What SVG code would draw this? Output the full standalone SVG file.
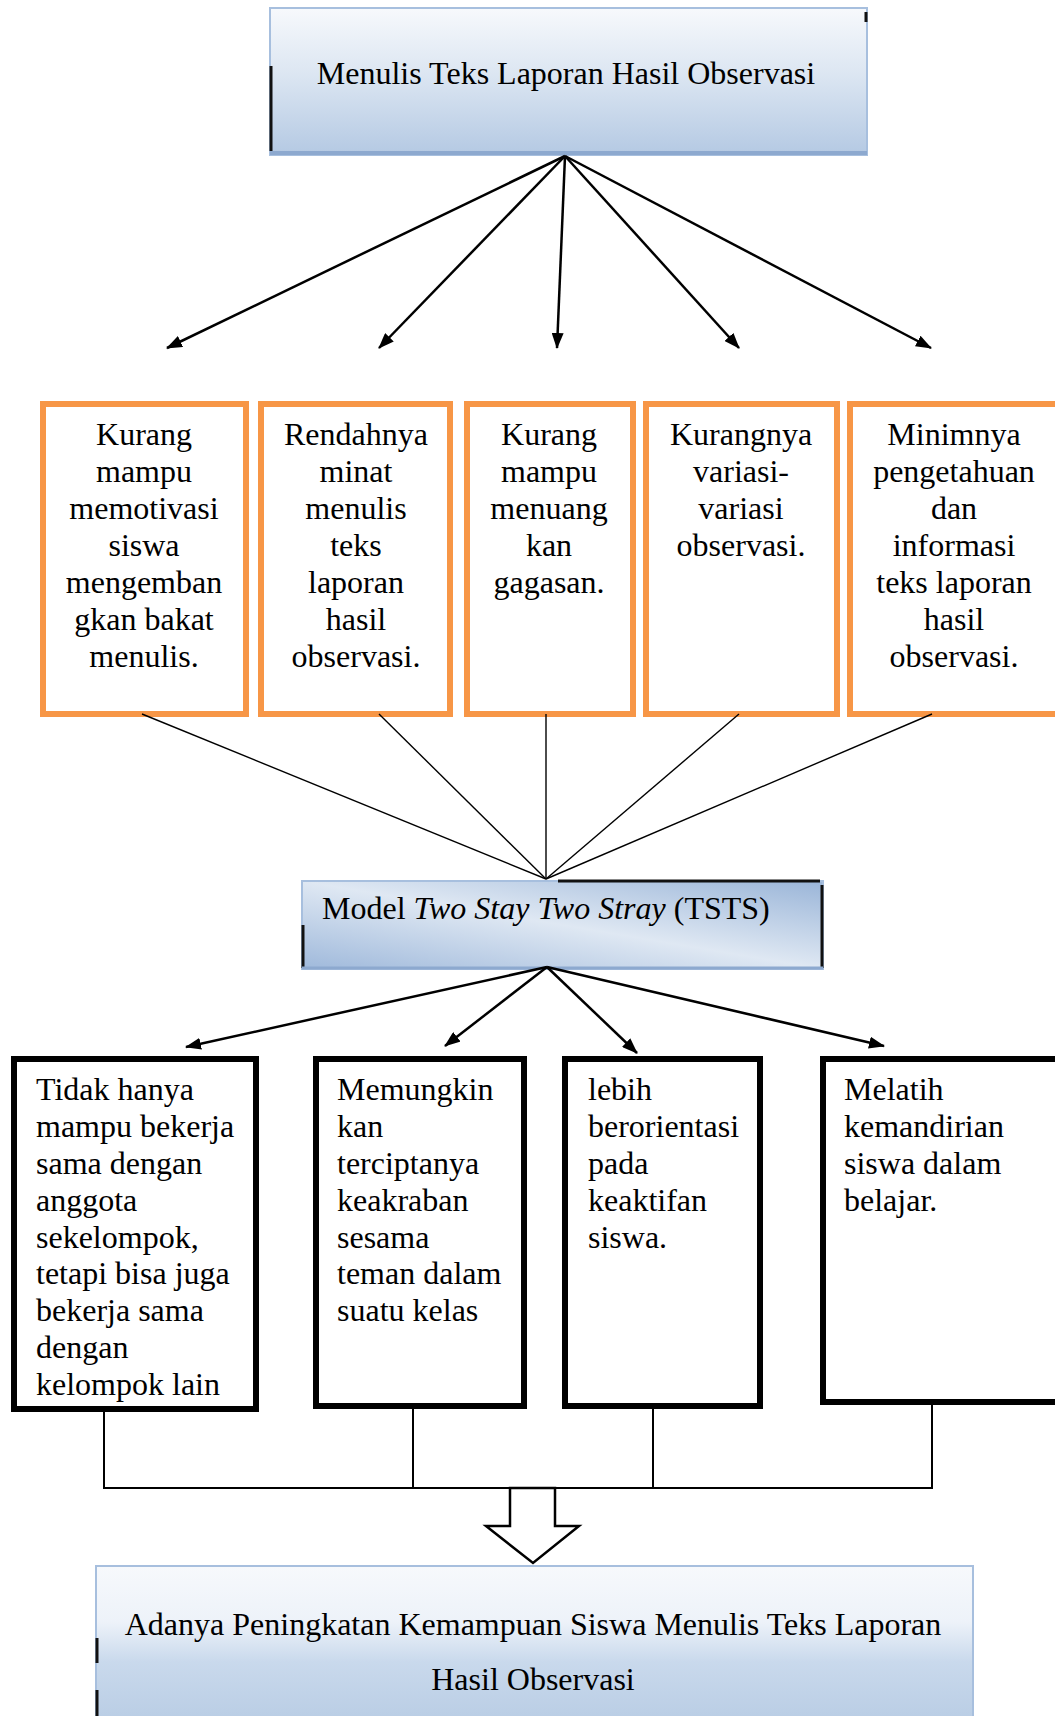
<svg xmlns="http://www.w3.org/2000/svg" width="1055" height="1716" viewBox="0 0 1055 1716">
<style>
text{font-family:"Liberation Serif","Times New Roman",serif;font-size:32px;fill:#000}
.c{text-anchor:middle}
.ob{fill:#fff;stroke:#F79646;stroke-width:6}
.bb{fill:#fff;stroke:#000;stroke-width:6}
.ar{stroke:#000;stroke-width:2.5;fill:none;marker-end:url(#ah)}
.ln{stroke:#000;stroke-width:1.4;fill:none}
.jn{stroke:#000;stroke-width:2;fill:none}
.edge{stroke:#111;stroke-width:3;fill:none}
</style>
<defs>
<marker id="ah" viewBox="0 0 16 12" markerWidth="16" markerHeight="12" refX="15" refY="6" orient="auto" markerUnits="userSpaceOnUse">
<path d="M0,0 L16,6 L0,12 z" fill="#000"/>
</marker>
<linearGradient id="gv" x1="0" y1="0" x2="0" y2="1">
<stop offset="0" stop-color="#F7F9FC"/>
<stop offset="0.45" stop-color="#DCE6F2"/>
<stop offset="1" stop-color="#B4C9E3"/>
</linearGradient>
<linearGradient id="gb" x1="0" y1="0" x2="0" y2="1">
<stop offset="0" stop-color="#F7F9FC"/>
<stop offset="0.35" stop-color="#EDF2F9"/>
<stop offset="0.6" stop-color="#C9D9EC"/>
<stop offset="1" stop-color="#B8CCE4"/>
</linearGradient>
<linearGradient id="gd" x1="0" y1="1" x2="1" y2="0">
<stop offset="0" stop-color="#9FB9DB"/>
<stop offset="0.5" stop-color="#DFE8F3"/>
<stop offset="1" stop-color="#9AB5D8"/>
</linearGradient>
</defs>

<g id="top">
<rect x="270" y="8" width="597" height="147" fill="url(#gv)" stroke="#A7BFDE" stroke-width="2"/>
<line x1="270" y1="153" x2="867" y2="153" stroke="#8DA9CF" stroke-width="4"/>
<line class="edge" x1="271" y1="66" x2="271" y2="151"/>
<line class="edge" x1="866" y1="12" x2="866" y2="22"/>
<text class="c" x="566" y="84">Menulis Teks Laporan Hasil Observasi</text>
</g>

<g id="p1">
<rect class="ob" x="43" y="404" width="203" height="310"/>
<text class="c" x="144" y="445">Kurang</text>
<text class="c" x="144" y="482">mampu</text>
<text class="c" x="144" y="519">memotivasi</text>
<text class="c" x="144" y="556">siswa</text>
<text class="c" x="144" y="593">mengemban</text>
<text class="c" x="144" y="630">gkan bakat</text>
<text class="c" x="144" y="667">menulis.</text>
</g>
<g id="p2">
<rect class="ob" x="261" y="404" width="189" height="310"/>
<text class="c" x="356" y="445">Rendahnya</text>
<text class="c" x="356" y="482">minat</text>
<text class="c" x="356" y="519">menulis</text>
<text class="c" x="356" y="556">teks</text>
<text class="c" x="356" y="593">laporan</text>
<text class="c" x="356" y="630">hasil</text>
<text class="c" x="356" y="667">observasi.</text>
</g>
<g id="p3">
<rect class="ob" x="467" y="404" width="166" height="310"/>
<text class="c" x="549" y="445">Kurang</text>
<text class="c" x="549" y="482">mampu</text>
<text class="c" x="549" y="519">menuang</text>
<text class="c" x="549" y="556">kan</text>
<text class="c" x="549" y="593">gagasan.</text>
</g>
<g id="p4">
<rect class="ob" x="646" y="404" width="191" height="310"/>
<text class="c" x="741" y="445">Kurangnya</text>
<text class="c" x="741" y="482">variasi-</text>
<text class="c" x="741" y="519">variasi</text>
<text class="c" x="741" y="556">observasi.</text>
</g>
<g id="p5">
<rect class="ob" x="850" y="404" width="210" height="310"/>
<text class="c" x="954" y="445">Minimnya</text>
<text class="c" x="954" y="482">pengetahuan</text>
<text class="c" x="954" y="519">dan</text>
<text class="c" x="954" y="556">informasi</text>
<text class="c" x="954" y="593">teks laporan</text>
<text class="c" x="954" y="630">hasil</text>
<text class="c" x="954" y="667">observasi.</text>
</g>

<g id="tsts">
<rect x="302" y="881" width="521" height="88" fill="url(#gd)" stroke="#A7BFDE" stroke-width="2"/>
<line x1="558" y1="881" x2="820" y2="881" stroke="#111" stroke-width="3"/>
<line class="edge" x1="822" y1="885" x2="822" y2="968"/>
<line class="edge" x1="303" y1="925" x2="303" y2="968"/>
<line x1="302" y1="968" x2="823" y2="968" stroke="#8DA9CF" stroke-width="3"/>
<text x="322" y="919">Model <tspan font-style="italic">Two Stay Two Stray</tspan> (TSTS)</text>
</g>

<g id="b1">
<rect class="bb" x="14" y="1059" width="242" height="350"/>
<text x="36" y="1100">Tidak hanya</text>
<text x="36" y="1137">mampu bekerja</text>
<text x="36" y="1174">sama dengan</text>
<text x="36" y="1211">anggota</text>
<text x="36" y="1248">sekelompok,</text>
<text x="36" y="1284">tetapi bisa juga</text>
<text x="36" y="1321">bekerja sama</text>
<text x="36" y="1358">dengan</text>
<text x="36" y="1395">kelompok lain</text>
</g>
<g id="b2">
<rect class="bb" x="316" y="1059" width="208" height="347"/>
<text x="337" y="1100">Memungkin</text>
<text x="337" y="1137">kan</text>
<text x="337" y="1174">terciptanya</text>
<text x="337" y="1211">keakraban</text>
<text x="337" y="1248">sesama</text>
<text x="337" y="1284">teman dalam</text>
<text x="337" y="1321">suatu kelas</text>
</g>
<g id="b3">
<rect class="bb" x="565" y="1059" width="195" height="347"/>
<text x="588" y="1100">lebih</text>
<text x="588" y="1137">berorientasi</text>
<text x="588" y="1174">pada</text>
<text x="588" y="1211">keaktifan</text>
<text x="588" y="1248">siswa.</text>
</g>
<g id="b4">
<rect class="bb" x="823" y="1059" width="235" height="343"/>
<text x="844" y="1100">Melatih</text>
<text x="844" y="1137">kemandirian</text>
<text x="844" y="1174">siswa dalam</text>
<text x="844" y="1211">belajar.</text>
</g>

<g id="result">
<rect x="96" y="1566" width="877" height="160" fill="url(#gb)" stroke="#A7BFDE" stroke-width="2"/>
<line class="edge" x1="97" y1="1638" x2="97" y2="1663"/>
<line class="edge" x1="97" y1="1690" x2="97" y2="1716"/>
<text class="c" x="533" y="1635">Adanya Peningkatan Kemampuan Siswa Menulis Teks Laporan</text>
<text class="c" x="533" y="1690">Hasil Observasi</text>
</g>

<g id="connectors">
<line class="ar" x1="565" y1="156" x2="167" y2="348"/>
<line class="ar" x1="565" y1="156" x2="379" y2="348"/>
<line class="ar" x1="565" y1="156" x2="557" y2="348"/>
<line class="ar" x1="565" y1="156" x2="739" y2="348"/>
<line class="ar" x1="565" y1="156" x2="931" y2="348"/>
<line class="ln" x1="142" y1="714" x2="546" y2="879"/>
<line class="ln" x1="379" y1="714" x2="546" y2="879"/>
<line class="ln" x1="546" y1="714" x2="546" y2="879"/>
<line class="ln" x1="739" y1="714" x2="546" y2="879"/>
<line class="ln" x1="932" y1="714" x2="546" y2="879"/>
<line class="ar" x1="547" y1="967" x2="186" y2="1047"/>
<line class="ar" x1="547" y1="967" x2="445" y2="1046"/>
<line class="ar" x1="547" y1="967" x2="637" y2="1053"/>
<line class="ar" x1="547" y1="967" x2="884" y2="1046"/>
<line class="jn" x1="104" y1="1412" x2="104" y2="1488"/>
<line class="jn" x1="413" y1="1409" x2="413" y2="1488"/>
<line class="jn" x1="653" y1="1409" x2="653" y2="1488"/>
<line class="jn" x1="932" y1="1405" x2="932" y2="1488"/>
<line class="jn" x1="103" y1="1488" x2="933" y2="1488"/>
<path d="M510,1488 L555,1488 L555,1526 L579,1526 L533,1563 L486,1526 L510,1526 Z" fill="#fff" stroke="#000" stroke-width="2.5" stroke-linejoin="miter"/>
</g>
</svg>
